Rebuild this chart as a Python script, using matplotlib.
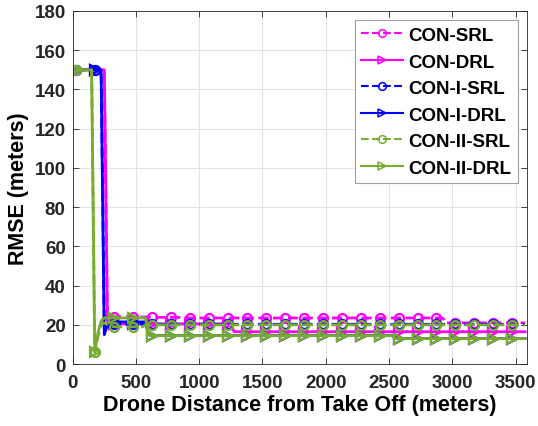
import numpy as np
import matplotlib
matplotlib.use("Agg")
import matplotlib.pyplot as plt

plt.rcParams['font.family'] = ['Liberation Sans', 'DejaVu Sans']
plt.rcParams['font.weight'] = 'bold'

# drone distance from take off (meters), one sample every 25 m
distance = np.arange(25, 3576, 25)

# RMSE (meters), 12 samples per row (300 m)
con_srl = [
    150, 150, 150, 150, 150, 150, 150, 150, 150, 150, 24, 24.5,
    24, 24, 24, 24, 24, 24, 24, 24, 24, 24, 24, 24,
    23.8, 23.8, 23.8, 23.8, 23.8, 23.8, 23.8, 23.8, 23.8, 23.8, 23.8, 23.8,
    23.5, 23.5, 23.5, 23.5, 23.5, 23.5, 23.5, 23.5, 23.5, 23.5, 23.5, 23.5,
    23.5, 23.5, 23.5, 23.5, 23.5, 23.5, 23.5, 23.5, 23.5, 23.5, 23.5, 23.5,
    23.5, 23.5, 23.5, 23.5, 23.5, 23.5, 23.5, 23.5, 23.5, 23.5, 23.5, 23.5,
    23.5, 23.5, 23.5, 23.5, 23.5, 23.5, 23.5, 23.5, 23.5, 23.5, 23.5, 23.5,
    23.5, 23.5, 23.5, 23.5, 23.5, 23.5, 23.5, 23.5, 23.5, 23.5, 23.5, 23.5,
    23.5, 23.5, 23.5, 23.5, 23.5, 23.5, 23.5, 23.5, 23.5, 23.5, 23.5, 23.5,
    23.5, 23.5, 23.5, 23.5, 23.5, 23.5, 23.5, 23.5, 23.5, 21, 21, 21,
    21, 21, 21, 21, 21, 21, 21, 21, 21, 21, 21, 21,
    21, 21, 21, 21, 21, 21, 21, 21, 21, 21, 21,
]
con_drl = [
    150, 150, 150, 150, 150, 150, 150, 150, 150, 150, 22, 21,
    20.5, 20.5, 20.5, 20.5, 20.5, 20.5, 20.5, 20.5, 20.5, 20.5, 20.5, 20.5,
    20.5, 20.5, 20.5, 20.5, 20.5, 20.5, 20.5, 20.5, 20.5, 20.5, 20.5, 20.5,
    20.5, 20.5, 20.5, 20.5, 20.5, 20.5, 20.5, 20.5, 20.5, 20.5, 20.5, 20.5,
    20.5, 20.5, 16.5, 16.5, 16.5, 16.5, 16.5, 16.5, 16.5, 16.5, 16.5, 16.5,
    16.5, 16.5, 16.5, 16.5, 16.5, 16.5, 16.5, 16.5, 16.5, 16.5, 16.5, 16.5,
    16.5, 16.5, 16.5, 16.5, 16.5, 16.5, 16.5, 16.5, 16.5, 16.5, 16.5, 16.5,
    16.5, 16.5, 16.5, 16.5, 16.5, 16.5, 16.5, 16.5, 16.5, 16.5, 16.5, 16.5,
    16.5, 16.5, 16.5, 16.5, 16.5, 16.5, 16.5, 16.5, 16.5, 16.5, 16.5, 16.5,
    16.5, 16.5, 16.5, 16.5, 16.5, 16.5, 16.5, 16.5, 16.5, 16.5, 16.5, 16.5,
    16.5, 16.5, 16.5, 16.5, 16.5, 16.5, 16.5, 16.5, 16.5, 16.5, 16.5, 16.5,
    16.5, 16.5, 16.5, 16.5, 16.5, 16.5, 16.5, 16.5, 16.5, 16.5, 16.5,
]
con_i_srl = [
    150, 150, 150, 150, 150, 150, 150, 150, 150, 18, 21, 20.5,
    20.3, 20.3, 20.3, 20.3, 20.3, 20.3, 20.3, 20.3, 20.3, 20.3, 20.3, 20.3,
    20.3, 20.3, 20.3, 20.3, 20.3, 20.3, 20.3, 20.3, 20.3, 20.3, 20.3, 20.3,
    20.3, 20.3, 20.3, 20.3, 20.3, 20.3, 20.3, 20.3, 20.3, 20.3, 20.3, 20.3,
    20.3, 20.3, 20.3, 20.3, 20.3, 20.3, 20.3, 20.3, 20.3, 20.3, 20.3, 20.3,
    20.3, 20.3, 20.3, 20.3, 20.3, 20.3, 20.3, 20.3, 20.3, 20.3, 20.3, 20.3,
    20.3, 20.3, 20.3, 20.3, 20.3, 20.3, 20.3, 20.3, 20.3, 20.3, 20.3, 20.3,
    20.3, 20.3, 20.3, 20.3, 20.3, 20.3, 20.3, 20.3, 20.3, 20.3, 20.3, 20.3,
    20.3, 20.3, 20.3, 20.3, 20.3, 20.3, 20.3, 20.3, 20.3, 20.3, 20.3, 20.3,
    20.3, 20.3, 20.3, 20.3, 20.3, 20.3, 20.3, 20.3, 20.3, 20.3, 20.3, 20.3,
    20.3, 20.3, 20.3, 20.3, 20.3, 20.3, 20.3, 20.3, 20.3, 20.3, 20.3, 20.3,
    20.3, 20.3, 20.3, 20.3, 20.3, 20.3, 20.3, 20.3, 20.3, 20.3, 20.3,
]
con_i_drl = [
    150, 150, 150, 150, 150, 150, 150, 150, 150, 15, 20, 21.5,
    21.5, 21.5, 21.5, 21.5, 21.5, 21.5, 21.5, 21.5, 21.5, 21.5, 21.5, 15,
    14.5, 14.5, 14.5, 14.5, 14.5, 14.5, 14.5, 14.5, 14.5, 14.5, 14.5, 14.5,
    14.5, 14.5, 14.5, 14.5, 14.5, 14.5, 14.5, 14.5, 14.5, 14.5, 14.5, 14.5,
    14.5, 14.5, 14.5, 14.5, 14.5, 14.5, 14.5, 14.5, 14.5, 14.5, 14.5, 14.5,
    14.5, 14.5, 14.5, 14.5, 14.5, 14.5, 14.5, 14.5, 14.5, 14.5, 14.5, 14.5,
    14.5, 14.5, 14.5, 14.5, 14.5, 14.5, 14.5, 14.5, 14.5, 14.5, 14.5, 14.5,
    14.5, 14.5, 14.5, 14.5, 14.5, 14.5, 14.5, 14.5, 14.5, 14.5, 14.5, 14.5,
    14.5, 14.5, 14.5, 14.5, 14.5, 13, 13, 13, 13, 13, 13, 13,
    13, 13, 13, 13, 13, 13, 13, 13, 13, 13, 13, 13,
    13, 13, 13, 13, 13, 13, 13, 13, 13, 13, 13, 13,
    13, 13, 13, 13, 13, 13, 13, 13, 13, 13, 13,
]
con_ii_srl = [
    150, 150, 150, 150, 150, 150, 6, 14, 20, 21, 20, 19.5,
    19, 19, 19, 19, 19, 19, 19, 19, 19, 19, 20, 20,
    20, 20, 20, 20, 20, 20, 20, 20, 20, 20, 20, 20,
    20, 20, 20, 20, 20, 20, 20, 20, 20, 20, 20, 20,
    20, 20, 20, 20, 20, 20, 20, 20, 20, 20, 20, 20,
    20, 20, 20, 20, 20, 20, 20, 20, 20, 20, 20, 20,
    20, 20, 20, 20, 20, 20, 20, 20, 20, 20, 20, 20,
    20, 20, 20, 20, 20, 20, 20, 20, 20, 20, 20, 20,
    20, 20, 20, 20, 20, 20, 20, 20, 20, 20, 20, 20,
    20, 20, 20, 20, 20, 20, 20, 20, 20, 20, 20, 20,
    20, 20, 20, 20, 20, 20, 20, 20, 20, 20, 20, 20,
    20, 20, 20, 20, 20, 20, 20, 20, 20, 20, 20,
]
con_ii_drl = [
    150, 150, 150, 150, 150, 150, 6, 16, 22, 23.5, 23.5, 23.5,
    23.5, 23.5, 23.5, 23.5, 23.5, 23.5, 23.5, 23.5, 23.5, 23.5, 23.5, 15,
    14.5, 14.5, 14.5, 14.5, 14.5, 14.5, 14.5, 14.5, 14.5, 14.5, 14.5, 14.5,
    14.5, 14.5, 14.5, 14.5, 14.5, 14.5, 14.5, 14.5, 14.5, 14.5, 14.5, 14.5,
    14.5, 14.5, 14.5, 14.5, 14.5, 14.5, 14.5, 14.5, 14.5, 14.5, 14.5, 14.5,
    14.5, 14.5, 14.5, 14.5, 14.5, 14.5, 14.5, 14.5, 14.5, 14.5, 14.5, 14.5,
    14.5, 14.5, 14.5, 14.5, 14.5, 14.5, 14.5, 14.5, 14.5, 14.5, 14.5, 14.5,
    14.5, 14.5, 14.5, 14.5, 14.5, 14.5, 14.5, 14.5, 14.5, 14.5, 14.5, 14.5,
    14.5, 14.5, 14.5, 14.5, 14.5, 13, 13, 13, 13, 13, 13, 13,
    13, 13, 13, 13, 13, 13, 13, 13, 13, 13, 13, 13,
    13, 13, 13, 13, 13, 13, 13, 13, 13, 13, 13, 13,
    13, 13, 13, 13, 13, 13, 13, 13, 13, 13, 13,
]

labels = ['CON-SRL', 'CON-DRL', 'CON-I-SRL', 'CON-I-DRL', 'CON-II-SRL', 'CON-II-DRL']
series = [con_srl, con_drl, con_i_srl, con_i_drl, con_ii_srl, con_ii_drl]
colors = ['#FF00FF', '#FF00FF', '#0000FF', '#0000FF', '#77AC30', '#77AC30']
styles = ['--', '-', '--', '-', '--', '-']
markers = ['o', '>', 'o', '>', 'o', '>']

fig = plt.figure(figsize=(5.38, 4.27), dpi=100)
ax = fig.add_axes([0.135, 0.145, 0.845, 0.827])

for y, lab, c, ls, m in zip(series, labels, colors, styles, markers):
    ax.plot(distance, y, linestyle=ls, color=c, lw=2, marker=m, markersize=6.5,
            markevery=6, markerfacecolor='none', markeredgewidth=1.6, label=lab)

ax.set_xlim(0, 3592)
ax.set_ylim(0, 180)
ax.set_xticks(np.arange(0, 3501, 500))
ax.set_yticks(np.arange(0, 181, 20))
ax.grid(True, color='#e3e3e3', lw=0.8)
ax.set_axisbelow(True)
ax.tick_params(direction='in', length=4, width=0.6, top=True, right=True,
               labelsize=13.5, colors='#262626', pad=5)
ax.tick_params(axis='x', pad=7)
for lbl in ax.get_xticklabels() + ax.get_yticklabels():
    lbl.set_fontweight('bold')
for s in ax.spines.values():
    s.set_color('#262626')
    s.set_linewidth(0.6)

ax.set_xlabel('Drone Distance from Take Off (meters)', fontsize=15.5, fontweight='bold', labelpad=2)
ax.set_ylabel('RMSE (meters)', fontsize=15.5, fontweight='bold', labelpad=4)

leg = ax.legend(loc='upper right', handlelength=2.2, handletextpad=0.3,
                labelspacing=0.5, borderaxespad=0.5, borderpad=0.35, fancybox=False,
                framealpha=1, edgecolor='#a0a0a0', prop={'weight': 'bold', 'size': 13.5})
leg.get_frame().set_linewidth(0.8)
for h in leg.legend_handles:
    h.set_markersize(5.5)
    h.set_markeredgewidth(1.1)
    h.set_linewidth(1.5)

fig.savefig('out.png', dpi=100)
